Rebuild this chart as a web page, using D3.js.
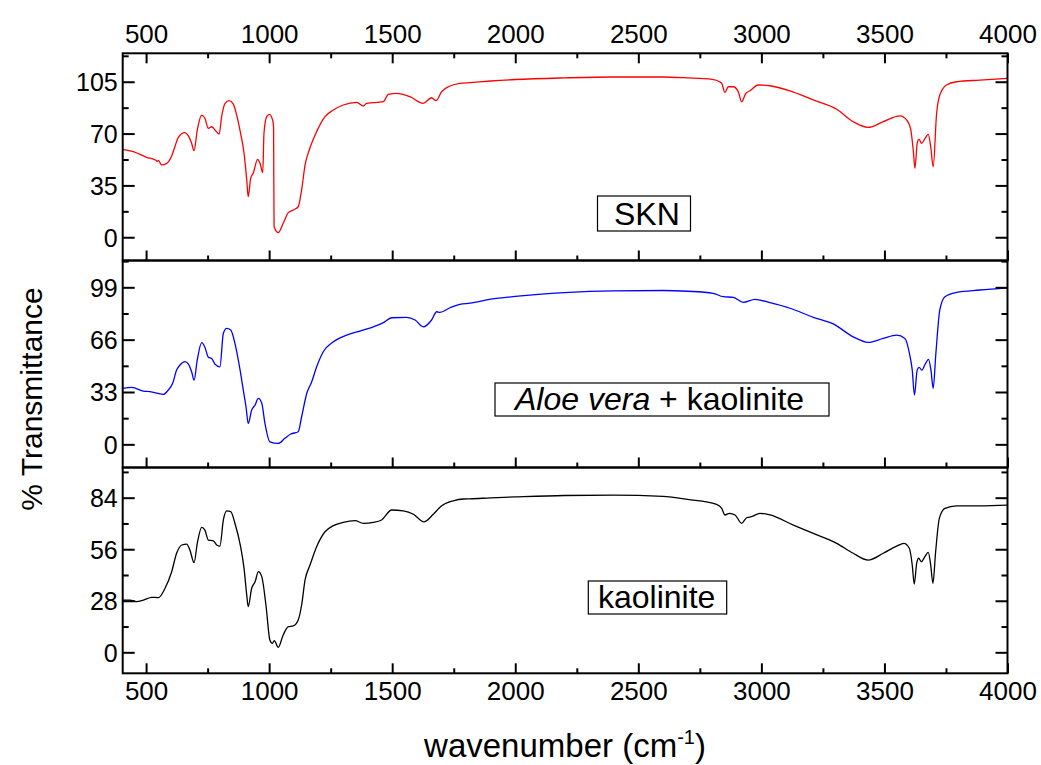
<!DOCTYPE html>
<html>
<head>
<meta charset="utf-8">
<script src="https://cdn.jsdelivr.net/npm/d3@7"></script>
<style>
  html, body { margin: 0; padding: 0; background: #fff; }
  svg { display: block; font-family: "Liberation Sans", Arial, Helvetica, sans-serif; }
</style>
</head>
<body>
<svg id="chart" width="1041" height="765"></svg>
<script>
// ---------- data (wavenumber cm^-1, % transmittance) ----------
const xTickValues = [500, 1000, 1500, 2000, 2500, 3000, 3500, 4000];
const xMinorValues = [750, 1250, 1750, 2250, 2750, 3250, 3750];

const sknTicks = [0, 35, 70, 105];
const aloeTicks = [0, 33, 66, 99];
const kaoTicks = [0, 28, 56, 84];

const sknLabel = "SKN";
const aloeLabelItalic = "Aloe vera";
const aloeLabelRest = " + kaolinite";
const kaoLabel = "kaolinite";

const sknData = [[405,59.4],[448,57.8],[502,54],[540,52],[545,51.2],[550,51.9],[563,48.8],[584,49.9],[604,54.9],[617,61.1],[631,67.5],[658,70.6],[672,68.4],[685,63.4],[695,58.5],[708,72.4],[726,82.5],[739,80.3],[753,73.5],[767,74.6],[780,72.4],[797,69.7],[807,81.4],[821,90.4],[838,92.2],[854,90],[868,82.5],[884,70.2],[898,56.7],[909,38.7],[915,27.4],[925,39.8],[936,43.6],[953,52.6],[963,49.9],[974,43.6],[979,70.2],[990,81.4],[1001,83],[1014,79.2],[1018,74.6],[1020,7.2],[1037,3.1],[1057,9.4],[1078,16.6],[1098,18.4],[1118,20.6],[1132,31.9],[1146,48.8],[1163,58.9],[1193,71.3],[1227,81.4],[1261,85.9],[1301,89.3],[1356,91.1],[1383,88.6],[1396,90.4],[1464,91.5],[1484,96.5],[1518,97.2],[1572,94.9],[1626,90.4],[1660,94.2],[1678,92.2],[1701,98.3],[1735,102.1],[1775,103.9],[1816,104.4],[1900,105.5],[2000,106.5],[2200,107.6],[2400,108.2],[2600,108.2],[2700,107.6],[2800,106.6],[2830,105],[2839,103.9],[2852,97.8],[2866,101.6],[2886,101.6],[2906,98.3],[2920,91.5],[2937,97.2],[2954,98.9],[2987,102.8],[3035,102.3],[3116,98.9],[3211,92.7],[3306,86.4],[3373,78],[3434,74.2],[3495,78],[3563,81.9],[3590,79.2],[3606,73.5],[3617,58.9],[3624,46.6],[3633,63.4],[3640,66.3],[3651,63.4],[3665,66.8],[3678,69.5],[3688,61.1],[3698,47.6],[3712,83.7],[3725,96],[3752,102.8],[3793,105],[3888,106.1],[4000,107.3]];

const aloeData = [[405,35.3],[442,35.9],[489,33.6],[516,33.2],[570,31.5],[590,34.2],[608,38.5],[624,46.8],[638,50],[658,52.1],[672,50.6],[685,45.8],[695,40.5],[708,53.2],[726,64.1],[739,61.2],[753,54.9],[767,54],[780,50.6],[800,48.9],[814,70],[828,73.1],[844,72.1],[861,63.7],[882,46.8],[895,34.2],[906,23.7],[915,13.2],[929,21.6],[943,24.8],[956,29],[970,25.9],[983,13.2],[1003,1.6],[1037,0.6],[1064,3.8],[1088,6.5],[1118,7.9],[1132,17.4],[1153,32.2],[1173,39.5],[1193,48.9],[1220,58.4],[1261,64.7],[1315,68.9],[1369,71.4],[1423,74.1],[1464,76.7],[1498,79.8],[1559,80.1],[1593,78.4],[1626,74.1],[1660,78.4],[1681,83.6],[1694,83.2],[1735,86.1],[1775,88.3],[1816,89],[1900,91.5],[2000,93.3],[2200,95.7],[2400,96.8],[2600,97],[2700,96.5],[2804,95.2],[2845,93.1],[2886,92.7],[2926,89.5],[2974,91.4],[3035,89.3],[3116,85.8],[3211,80.1],[3292,75.9],[3373,67.8],[3434,64.3],[3495,66.8],[3550,68.9],[3583,66.8],[3603,56.3],[3613,46.8],[3622,31.1],[3633,46.8],[3641,48.5],[3652,46.8],[3664,50],[3679,53.6],[3689,46.8],[3698,35.3],[3709,57.4],[3725,84.7],[3746,93.1],[3793,95.8],[3888,97.3],[4000,98.7]];

const kaoData = [[405,28.4],[435,28.4],[462,27.5],[489,28.4],[523,29.9],[550,29.7],[577,34.8],[604,43.8],[624,53.8],[645,58.3],[665,58.8],[678,55.6],[695,48.7],[708,59.2],[726,67.9],[739,66.4],[753,61],[773,60.6],[787,58.3],[800,57.7],[814,71.9],[828,76.8],[844,76.4],[861,70.1],[884,57.4],[898,45.6],[909,31.1],[915,24.8],[929,34.8],[943,38.3],[956,43.8],[970,41.1],[987,25.7],[1003,6.7],[1013,4.9],[1021,6.3],[1037,2.7],[1057,9.4],[1078,13.9],[1098,14.3],[1118,17.5],[1132,25.7],[1146,39.3],[1166,47.4],[1193,57.4],[1227,65.5],[1261,68.8],[1301,70.6],[1349,71.5],[1383,70.1],[1423,70.6],[1457,71.9],[1498,77.3],[1545,76.8],[1586,75],[1629,70.9],[1667,75],[1701,79.6],[1748,82.3],[1789,83.3],[1816,83.4],[1900,83.9],[2000,84.4],[2200,85.2],[2400,85.4],[2600,84.7],[2700,83.1],[2818,80.4],[2839,78.2],[2852,74.6],[2870,75.5],[2893,74.6],[2920,70.1],[2940,73.1],[2960,73.7],[2994,75.5],[3035,74.6],[3130,69.1],[3211,64.6],[3306,59.2],[3373,53.8],[3434,50.1],[3495,53.8],[3550,57.7],[3579,59.2],[3601,56.5],[3613,47.4],[3621,37.1],[3631,48.3],[3639,51.1],[3650,49.2],[3664,51.9],[3678,54.3],[3688,47.4],[3697,37.5],[3708,54.6],[3723,72.8],[3746,78.2],[3793,79.5],[3888,79.6],[4000,80]];

// ---------- layout ----------
const L = 122.7, R = 1007.5;
const panels = [
  { data: sknData, ticks: sknTicks, domain: [-15.7, 124.2], top: 53.3, bottom: 260.5, color: "#ff0000" },
  { data: aloeData, ticks: aloeTicks, domain: [-14.6, 115.9], top: 260.5, bottom: 467.5, color: "#0000ff" },
  { data: kaoData, ticks: kaoTicks, domain: [-11.4, 100.4], top: 467.5, bottom: 673.3, color: "#000000" }
];

const svg = d3.select("#chart");
const x = d3.scaleLinear().domain([405, 4000]).range([L, R]);

function minorsOf(ticks, domain) {
  const step = ticks[1] - ticks[0];
  const out = [];
  for (let v = ticks[0] - step / 2; v <= domain[1]; v += step) {
    if (v >= domain[0]) out.push(v);
  }
  return out;
}

function styleAxis(g, fontSize) {
  g.select(".domain").remove();
  g.selectAll(".tick line").attr("stroke", "#000").attr("stroke-width", 2);
  g.selectAll(".tick text").attr("fill", "#000").attr("font-size", fontSize)
    .attr("font-family", "'Liberation Sans', Arial, sans-serif");
}

panels.forEach((p, i) => {
  const y = d3.scaleLinear().domain(p.domain).range([p.bottom, p.top]);
  const minors = minorsOf(p.ticks, p.domain);

  const clipId = "clip" + i;
  svg.append("clipPath").attr("id", clipId).append("rect")
    .attr("x", L).attr("y", p.top).attr("width", R - L).attr("height", p.bottom - p.top);

  // curve
  const line = d3.line().x(d => x(d[0])).y(d => y(d[1])).curve(d3.curveMonotoneX);
  svg.append("path").datum(p.data)
    .attr("clip-path", `url(#${clipId})`)
    .attr("fill", "none").attr("stroke", p.color).attr("stroke-width", 1.3)
    .attr("stroke-linejoin", "round")
    .attr("d", line);

  // left axis with labels
  svg.append("g").attr("transform", `translate(${L},0)`)
    .call(d3.axisLeft(y).tickValues(p.ticks).tickSizeInner(-12).tickSizeOuter(0).tickPadding(5).tickFormat(d3.format("d")))
    .call(g => styleAxis(g, 25))
    .call(g => g.selectAll(".tick text").attr("dy", "0.36em"));
  svg.append("g").attr("transform", `translate(${L},0)`)
    .call(d3.axisLeft(y).tickValues(minors).tickSizeInner(-6).tickSizeOuter(0).tickFormat(""))
    .call(g => styleAxis(g, 0));

  // right axis
  svg.append("g").attr("transform", `translate(${R},0)`)
    .call(d3.axisRight(y).tickValues(p.ticks).tickSizeInner(-12).tickSizeOuter(0).tickFormat(""))
    .call(g => styleAxis(g, 0));
  svg.append("g").attr("transform", `translate(${R},0)`)
    .call(d3.axisRight(y).tickValues(minors).tickSizeInner(-6).tickSizeOuter(0).tickFormat(""))
    .call(g => styleAxis(g, 0));

  // bottom ticks of panel
  const isLast = i === panels.length - 1;
  svg.append("g").attr("transform", `translate(0,${p.bottom})`)
    .call(d3.axisBottom(x).tickValues(xTickValues).tickSizeInner(-10).tickSizeOuter(0).tickPadding(8)
      .tickFormat(isLast ? d3.format("d") : ""))
    .call(g => styleAxis(g, 26));
  svg.append("g").attr("transform", `translate(0,${p.bottom})`)
    .call(d3.axisBottom(x).tickValues(xMinorValues).tickSizeInner(-5).tickSizeOuter(0).tickFormat(""))
    .call(g => styleAxis(g, 0));

  if (i === 0) {
    svg.append("g").attr("transform", `translate(0,${p.top})`)
      .call(d3.axisTop(x).tickValues(xTickValues).tickSizeInner(-10).tickSizeOuter(0).tickPadding(10)
        .tickFormat(d3.format("d")))
      .call(g => styleAxis(g, 26));
    svg.append("g").attr("transform", `translate(0,${p.top})`)
      .call(d3.axisTop(x).tickValues(xMinorValues).tickSizeInner(-5).tickSizeOuter(0).tickFormat(""))
      .call(g => styleAxis(g, 0));
  }

  // frame
  svg.append("rect").attr("x", L).attr("y", p.top).attr("width", R - L).attr("height", p.bottom - p.top)
    .attr("fill", "none").attr("stroke", "#000").attr("stroke-width", 2);
});

// labels in boxes
function boxLabel(bx, by, bw, bh, tx, ty, build) {
  svg.append("rect").attr("x", bx).attr("y", by).attr("width", bw).attr("height", bh)
    .attr("fill", "#fff").attr("stroke", "#000").attr("stroke-width", 1.2);
  const t = svg.append("text").attr("x", tx).attr("y", ty).attr("font-size", 32).attr("fill", "#000");
  build(t);
}
boxLabel(597.5, 196, 93, 35, 614, 225, t => t.text(sknLabel));
boxLabel(495, 383, 334, 33, 515, 410, t => {
  t.append("tspan").attr("font-style", "italic").text(aloeLabelItalic);
  t.append("tspan").text(aloeLabelRest);
});
boxLabel(588.3, 581, 138.4, 33, 598, 608, t => t.text(kaoLabel));

// axis titles
svg.append("text").attr("x", 565).attr("y", 757).attr("text-anchor", "middle")
  .attr("font-size", 33).attr("fill", "#000")
  .call(t => {
    t.append("tspan").text("wavenumber (cm");
    t.append("tspan").attr("font-size", 20).attr("dy", -13).text("-1");
    t.append("tspan").attr("dy", 13).text(")");
  });

svg.append("text").attr("transform", "translate(42,399) rotate(-90)")
  .attr("text-anchor", "middle").attr("font-size", 30).attr("fill", "#000")
  .text("% Transmittance");
</script>
</body>
</html>
